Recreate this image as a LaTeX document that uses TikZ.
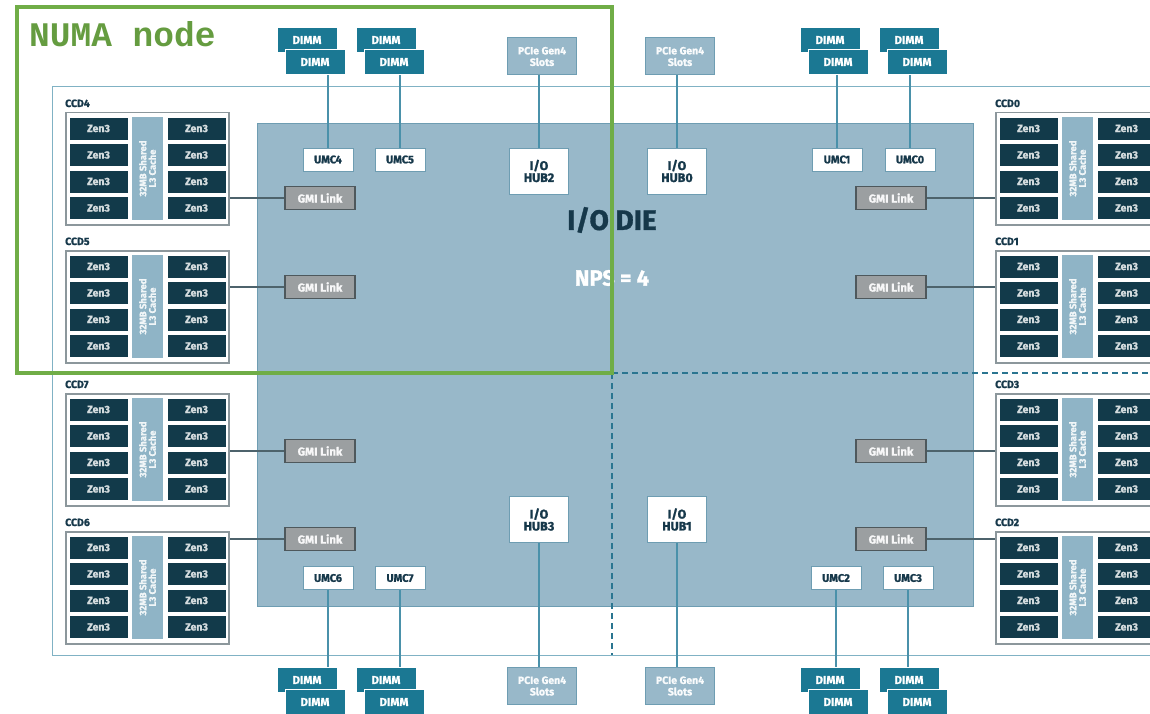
\documentclass[tikz,border=0pt]{standalone}
\usepackage{fontspec}
\setmainfont{Fira Sans}[BoldFeatures={FakeBold=1.2}]
\newfontfamily\numafont{Liberation Mono}
\usetikzlibrary{positioning}

\definecolor{zencol}{HTML}{123A4A}
\definecolor{cachecol}{HTML}{8FB4C6}
\definecolor{diecol}{HTML}{98B8C9}
\definecolor{dieedge}{HTML}{6E9DB2}
\definecolor{dimmcol}{HTML}{1B7893}
\definecolor{wirecol}{HTML}{4A91AA}
\definecolor{gmicol}{HTML}{9B9FA1}
\definecolor{gmiedge}{HTML}{4E585C}
\definecolor{numagreen}{HTML}{70AD47}
\definecolor{textdark}{HTML}{16384A}
\definecolor{ccdedge}{HTML}{8C979C}
\definecolor{dashcol}{HTML}{2A7590}

\begin{document}
\begin{tikzpicture}[x=1pt, y=-1pt,
    ccdbox/.style={
        draw=ccdedge, line width=1.5pt, fill=white, anchor=north west,
        minimum width=163pt, minimum height=112pt, inner sep=0pt
    },
    ccdlabel/.style={anchor=base west, inner sep=0pt, text=textdark,
        font=\bfseries\fontsize{10.5}{11}\selectfont},
    zen/.style={
        fill=zencol, draw=white, line width=0.6pt, inner sep=0pt,
        minimum width=59pt, minimum height=23pt, text=white!82!zencol,
        font=\bfseries\fontsize{10.5}{11}\selectfont
    },
    cache/.style={
        fill=cachecol, rotate=90, inner sep=0pt, align=center,
        minimum width=103pt, minimum height=31pt, text=white!88!cachecol,
        font=\bfseries\fontsize{9.5}{9.5}\selectfont
    },
    gmi/.style={
        fill=gmicol, draw=gmiedge, line width=1.2pt, inner sep=0pt,
        minimum width=70pt, minimum height=23pt, text=white!92!gmicol,
        font=\bfseries\fontsize{11.5}{12}\selectfont
    },
    umc/.style={
        fill=white, draw=dieedge, line width=0.8pt, inner sep=0pt,
        minimum width=50pt, minimum height=23pt, text=textdark,
        font=\bfseries\fontsize{11}{12}\selectfont
    },
    hub/.style={umc, minimum width=59pt, minimum height=46pt, align=center,
        font=\bfseries\fontsize{12.5}{12}\selectfont},
    dimm/.style={
        fill=dimmcol, draw=white, line width=0.8pt, inner sep=0pt,
        minimum width=60pt, minimum height=25pt, text=white,
        font=\bfseries\fontsize{11.5}{12}\selectfont
    },
    pcie/.style={
        fill=diecol, draw=dieedge, line width=1pt, inner sep=0pt, align=center,
        minimum width=69pt, minimum height=37pt, text=white!94!diecol,
        font=\bfseries\fontsize{10.5}{11.5}\selectfont
    },
    memwire/.style={draw=wirecol, line width=1.3pt},
    gmiwire/.style={draw=gmiedge!80!wirecol, line width=1.3pt}
]
\useasboundingbox (0,0) rectangle (1150,714);
\clip (0,0) rectangle (1150,714);
\fill[white] (0,0) rectangle (1150,714);

% package outline and I/O die
\draw[wirecol!70, line width=1pt] (52,87) rectangle (1180,655);
\node[fill=diecol, draw=dieedge, line width=1pt, inner sep=0pt,
    minimum width=716pt, minimum height=482pt] (iodie) at (615,365) {};
\node[text=textdark, font=\bfseries\fontsize{28}{28}\selectfont] (dielbl) at (612,220) {I/O DIE};
\node[text=white, font=\bfseries\fontsize{22}{22}\selectfont] (npslbl) at (612,278) {NPS = 4};

% NPS quadrant split
\draw[dashcol, line width=1.8pt, dash pattern=on 6pt off 4pt] (612,373) -- (612,655);
\draw[dashcol, line width=1.8pt, dash pattern=on 6pt off 4pt] (612,373) -- (1150,373);

% chiplets
\foreach \nm/\cx/\cy in {4/65/112, 5/65/250, 7/65/393, 6/65/531,
                         0/995/112, 1/995/250, 3/995/393, 2/995/531} {
    \node[ccdbox] (ccd\nm) at (\cx, \cy) {};
    \node[ccdlabel] (ccd\nm-lbl) at (\cx, \cy-5) {CCD\nm};
    \foreach \r in {1,...,4} {
        \node[zen] (ccd\nm-l\r) at ({\cx+33.5}, {\cy+16.5+26.5*(\r-1)}) {Zen3};
        \node[zen] (ccd\nm-r\r) at ({\cx+131.5}, {\cy+16.5+26.5*(\r-1)}) {Zen3};
    }
    \node[cache] (ccd\nm-l3) at ({\cx+82.5}, {\cy+56.5}) {32MB Shared\\L3 Cache};
}

% GMI links
\foreach \c/\gy in {4/198, 5/287, 7/451, 6/539} {
    \node[gmi] (gmi\c) at (320, \gy) {GMI Link};
    \draw[gmiwire] (gmi\c.west) -- (gmi\c.west -| ccd\c.east);
}
\foreach \c/\gy in {0/198, 1/287, 3/451, 2/539} {
    \node[gmi] (gmi\c) at (891, \gy) {GMI Link};
    \draw[gmiwire] (gmi\c.east) -- (gmi\c.east -| ccd\c.west);
}

% memory controllers and DIMMs
\foreach \u/\ux/\dx in {4/328/315, 5/400/394, 1/837/838, 0/910/917} {
    \node[umc] (umc\u) at (\ux, 159.5) {UMC\u};
    \node[dimm] (dimm\u-a) at (\dx-8, 40) {DIMM};
    \node[dimm] (dimm\u-b) at (\dx, 62) {DIMM};
    \draw[memwire] (umc\u.north) -- (umc\u.north |- dimm\u-b.south);
}
\foreach \u/\ux/\dx in {6/328/315, 7/400/394, 2/836/838, 3/908/917} {
    \node[umc] (umc\u) at (\ux, 578) {UMC\u};
    \node[dimm] (dimm\u-a) at (\dx-8, 680) {DIMM};
    \node[dimm] (dimm\u-b) at (\dx, 702) {DIMM};
    \draw[memwire] (umc\u.south) -- (umc\u.south |- dimm\u-a.north);
}

% I/O hubs and PCIe
\foreach \h/\hx/\hy/\py/\he/\pe in {2/539/171/56.5/north/south, 0/677/171/56.5/north/south,
                                    3/539/519.5/686/south/north, 1/677/519.5/686/south/north} {
    \node[hub] (hub\h) at (\hx, \hy) {I/O\\HUB\h};
    \node[pcie] (pcie\h) at (\hx+3, \py) {PCIe Gen4\\Slots};
    \draw[memwire] (hub\h.\he) -- (hub\h.\he |- pcie\h.\pe);
}

% NUMA node
\draw[numagreen, line width=4.5pt] (17,7) rectangle (612,373);
\node[anchor=base west, inner sep=0pt, text=numagreen!90!black,
    font=\numafont\bfseries\fontsize{34.5}{34.5}\selectfont] (numalbl) at (29,47) {NUMA node};
\end{tikzpicture}
\end{document}
